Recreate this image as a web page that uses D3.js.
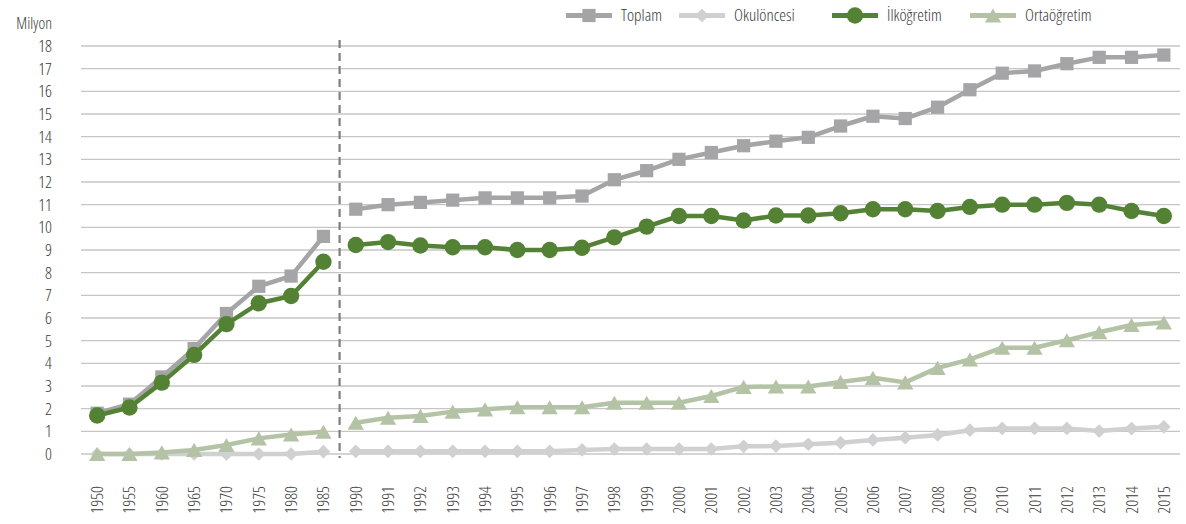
<!DOCTYPE html>
<html><head><meta charset="utf-8">
<script src="https://cdn.jsdelivr.net/npm/d3@7"></script>
<style>
body{margin:0;background:#fff;}
text{font-family:"Open Sans","DejaVu Sans Condensed",sans-serif;font-stretch:78%;font-weight:300;fill:#3a3a3a;}
</style></head><body>
<svg id="c" width="1186" height="524"></svg>
<script>
const years = ["1950","1955","1960","1965","1970","1975","1980","1985","1990","1991","1992","1993","1994","1995","1996","1997","1998","1999","2000","2001","2002","2003","2004","2005","2006","2007","2008","2009","2010","2011","2012","2013","2014","2015"];
const toplam = [1.8,2.2,3.4,4.65,6.2,7.4,7.85,9.6,10.8,11.0,11.1,11.2,11.3,11.3,11.3,11.38,12.1,12.5,13.0,13.3,13.6,13.8,13.97,14.47,14.9,14.8,15.3,16.07,16.8,16.9,17.22,17.5,17.5,17.6];
const okuloncesi = [0,0,0,0,0,0,0,0.1,0.12,0.12,0.12,0.12,0.12,0.12,0.12,0.18,0.22,0.22,0.22,0.22,0.34,0.35,0.43,0.5,0.62,0.72,0.84,1.05,1.13,1.13,1.13,1.01,1.12,1.2];
const ilkogretim = [1.7,2.05,3.15,4.37,5.73,6.65,6.97,8.48,9.22,9.35,9.2,9.12,9.12,9.0,9.0,9.1,9.56,10.03,10.5,10.5,10.3,10.52,10.52,10.62,10.8,10.8,10.72,10.9,11.0,11.0,11.08,11.0,10.72,10.5];
const ortaogretim = [0,0,0.07,0.18,0.4,0.69,0.86,0.98,1.38,1.6,1.68,1.87,1.97,2.06,2.06,2.06,2.26,2.26,2.26,2.56,2.96,2.98,2.98,3.18,3.36,3.16,3.8,4.17,4.69,4.69,5.02,5.37,5.69,5.8];
const yTicks = [0,1,2,3,4,5,6,7,8,9,10,11,12,13,14,15,16,17,18];
const seriesNames = ["Toplam","Okulöncesi","İlköğretim","Ortaöğretim"];
const breakAfter = "1985";

const series = [
  {name:seriesNames[0], values:toplam, color:"#A5A5A8", shape:"square"},
  {name:seriesNames[1], values:okuloncesi, color:"#D0D0D2", shape:"diamond"},
  {name:seriesNames[2], values:ilkogretim, color:"#548235", shape:"circle"},
  {name:seriesNames[3], values:ortaogretim, color:"#B4C3A5", shape:"triangle"}
];
const drawOrder = [1,3,0,2];

const svg = d3.select("#c");
const pL = 81, pR = 1180, pT = 46, pB = 454;
const x = d3.scaleBand().domain(years).range([pL, pR]);
const y = d3.scaleLinear().domain([0,18]).range([pB, pT]);
const cx = d => x(d) + x.bandwidth()/2;
const FS = 17;

// gridlines
svg.append("g").selectAll("line").data(yTicks).join("line")
  .attr("x1", pL).attr("x2", pR)
  .attr("y1", d=>y(d)).attr("y2", d=>y(d))
  .attr("stroke", "#C6C6C6").attr("stroke-width", 1.3);

// y labels
svg.append("g").selectAll("text").data(yTicks).join("text")
  .attr("x", 52).attr("y", d=>y(d)).attr("dy","0.36em")
  .attr("text-anchor","end").attr("font-size", FS).text(d=>d);
svg.append("text").attr("x", 52).attr("y", 29).attr("text-anchor","end").attr("font-size",FS-1).text("Milyon");

// x labels
svg.append("g").selectAll("text").data(years).join("text")
  .attr("transform", d=>`translate(${cx(d)+6},486) rotate(-90)`)
  .attr("text-anchor","end").attr("font-size", FS).text(d=>d);

// dashed break line
const bx = x(breakAfter) + x.bandwidth();
svg.append("line").attr("x1", bx).attr("x2", bx).attr("y1", 40).attr("y2", 458)
  .attr("stroke", "#7F7F7F").attr("stroke-width", 2.2).attr("stroke-dasharray","8,5");

const symSize = {square:175, diamond:120, circle:210, triangle:115};
const sym = {
  square: d3.symbol().type(d3.symbolSquare).size(symSize.square),
  diamond: d3.symbol().type(d3.symbolDiamond2).size(symSize.diamond),
  circle: d3.symbol().type(d3.symbolCircle).size(symSize.circle),
  triangle: d3.symbol().type(d3.symbolTriangle).size(symSize.triangle)
};
const triH = Math.sqrt(4*symSize.triangle/Math.sqrt(3)) * Math.sqrt(3)/2;
const yShift = shape => shape==="triangle" ? triH/6 : 0;

const line = d3.line().x(d=>cx(d.year)).y(d=>y(d.v));
const segA = years.slice(0, years.indexOf(breakAfter)+1);
const segB = years.slice(years.indexOf(breakAfter)+1);

drawOrder.forEach(si => {
  const s = series[si];
  const pts = years.map((yr,i)=>({year:yr, v:s.values[i]}));
  const g = svg.append("g");
  [segA, segB].forEach(seg => {
    const p = pts.filter(d=>seg.includes(d.year));
    g.append("path").attr("d", line(p)).attr("fill","none")
      .attr("stroke", s.color).attr("stroke-width", 4.5).attr("stroke-linejoin","round");
  });
  g.selectAll("path.m").data(pts).join("path").attr("class","m")
    .attr("d", sym[s.shape])
    .attr("transform", d=>`translate(${cx(d.year)},${y(d.v) + yShift(s.shape)})`)
    .attr("fill", s.color);
});

// legend
const legendX = [566, 679, 832, 970];
const lg = svg.append("g");
series.forEach((s,i) => {
  const lx = legendX[i], ly = 15.5;
  lg.append("line").attr("x1", lx).attr("x2", lx+46).attr("y1", ly).attr("y2", ly)
    .attr("stroke", s.color).attr("stroke-width", 5);
  lg.append("path").attr("d", sym[s.shape]).attr("transform", `translate(${lx+23},${ly + yShift(s.shape)})`).attr("fill", s.color);
  lg.append("text").attr("x", lx+55).attr("y", 21).attr("font-size",FS).text(s.name);
});
</script>
</body></html>
